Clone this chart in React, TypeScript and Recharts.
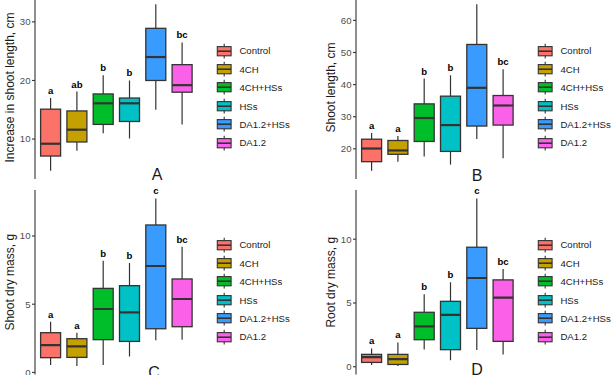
import React from "react";
import { BarChart, Bar, XAxis, YAxis, LabelList, Legend } from "recharts";

const groups = ["Control", "4CH", "4CH+HSs", "HSs", "DA1.2+HSs", "DA1.2"];
const colors = ["#FA7268", "#C4A000", "#00BE2A", "#00C1C6", "#3A9BFF", "#FB61E8"];

// box stats per group: [min, q1, median, q3, max]
const shootIncrease = [
  [4.6, 7.1, 9.2, 15.1, 17.0],
  [8.0, 9.5, 11.6, 14.8, 18.1],
  [11.0, 12.5, 16.1, 17.7, 20.9],
  [10.1, 13.0, 16.1, 17.0, 20.0],
  [15.0, 20.0, 24.0, 28.9, 33.0],
  [12.5, 18.0, 19.2, 22.7, 26.5],
];
const shootIncreaseSig = ["a", "ab", "b", "b", "c", "bc"];
const shootIncreaseTicks = [10, 20, 30];

const shootLength = [
  [13.2, 16.0, 20.1, 23.0, 24.9],
  [16.0, 18.3, 19.5, 22.6, 24.0],
  [17.6, 22.3, 29.6, 34.0, 41.9],
  [15.1, 19.2, 27.4, 36.4, 42.9],
  [23.1, 27.1, 39.0, 52.5, 65.0],
  [17.1, 27.4, 33.5, 36.6, 44.8],
];
const shootLengthSig = ["a", "a", "b", "b", "c", "bc"];
const shootLengthTicks = [20, 30, 40, 50, 60];

const shootDryMass = [
  [0.54, 1.08, 2.0, 2.91, 3.72],
  [0.46, 1.1, 1.91, 2.47, 2.91],
  [0.54, 2.4, 4.65, 6.16, 8.19],
  [1.17, 2.27, 4.4, 6.36, 8.02],
  [2.35, 3.2, 7.8, 10.81, 12.76],
  [2.4, 3.35, 5.38, 6.85, 9.22],
];
const shootDryMassSig = ["a", "a", "b", "b", "c", "bc"];
const dryMassTicks = [0, 5, 10];

const rootDryMass = [
  [0.13, 0.34, 0.76, 0.97, 1.44],
  [0.05, 0.18, 0.6, 0.97, 1.91],
  [1.36, 2.12, 3.17, 4.27, 5.68],
  [0.5, 1.34, 4.06, 5.13, 6.62],
  [1.31, 3.01, 6.96, 9.37, 13.2],
  [0.97, 1.99, 5.42, 6.81, 7.67],
];
const rootDryMassSig = ["a", "a", "b", "b", "c", "bc"];

const FONT = '"Liberation Sans", Arial, sans-serif';
const EDGE = "#333333";

// ggplot style 5% expansion around the data range
function expandDomain(stats: number[][]): [number, number] {
  const lo = Math.min(...stats.map((s) => s[0]));
  const hi = Math.max(...stats.map((s) => s[4]));
  const pad = (hi - lo) * 0.05;
  return [lo - pad, hi + pad];
}

function toRows(stats: number[][], sig: string[]) {
  return groups.map((name, i) => ({
    name,
    min: stats[i][0],
    q1: stats[i][1],
    median: stats[i][2],
    q3: stats[i][3],
    max: stats[i][4],
    sig: sig[i],
    color: colors[i],
  }));
}

const BoxShape = (props: any) => {
  const { x, y, width, height, payload } = props;
  if (x == null || y == null) return null;
  const top = Math.min(y, y + height);
  const h = Math.abs(height);
  const { min, q1, median, q3, max, color } = payload;
  const py = (v: number) => top + (h * (max - v)) / (max - min);
  const cx = x + width / 2;
  return (
    <g>
      <line x1={cx} x2={cx} y1={py(max)} y2={py(q3)} stroke={EDGE} strokeWidth={1.2} />
      <line x1={cx} x2={cx} y1={py(q1)} y2={py(min)} stroke={EDGE} strokeWidth={1.2} />
      <rect
        x={x}
        y={py(q3)}
        width={width}
        height={py(q1) - py(q3)}
        fill={color}
        stroke={EDGE}
        strokeWidth={1.3}
      />
      <line x1={x} x2={x + width} y1={py(median)} y2={py(median)} stroke={EDGE} strokeWidth={2.2} />
    </g>
  );
};

const KeyLegend = () => (
  <div style={{ fontFamily: FONT }}>
    {groups.map((g, i) => (
      <div key={g} style={{ display: "flex", alignItems: "center", height: 18.4 }}>
        <svg width={18.4} height={18.4} style={{ display: "block" }}>
          <line x1={9.2} x2={9.2} y1={1.8} y2={16.6} stroke={EDGE} strokeWidth={1.1} />
          <rect x={2.3} y={4.6} width={13.8} height={9.2} fill={colors[i]} stroke={EDGE} strokeWidth={1.1} />
          <line x1={2.3} x2={16.1} y1={9.2} y2={9.2} stroke={EDGE} strokeWidth={1.6} />
        </svg>
        <span style={{ marginLeft: 6, fontSize: 9.6, color: "#1a1a1a", whiteSpace: "nowrap" }}>{g}</span>
      </div>
    ))}
  </div>
);

type PanelProps = {
  stats: number[][];
  sig: string[];
  ticks: number[];
  yTitle: string;
  letter: string;
  left: number;
  top: number;
  bottomMargin: number;
  letterX: number;
  letterTop: number;
};

function BoxPanel({ stats, sig, ticks, yTitle, letter, left, top, bottomMargin, letterX, letterTop }: PanelProps) {
  const rows = toRows(stats, sig);
  const renderYTitle = (p: any) => {
    const vb = p.viewBox || {};
    const cy = (vb.y ?? 20) + (vb.height ?? 180) / 2;
    return (
      <text
        x={10}
        y={cy}
        transform={`rotate(-90, 10, ${cy})`}
        textAnchor="middle"
        dominantBaseline="central"
        fontSize={12}
        fill="#1a1a1a"
        fontFamily={FONT}
      >
        {yTitle}
      </text>
    );
  };
  return (
    <>
      <div style={{ position: "absolute", left, top }}>
        <BarChart
          width={305}
          height={210}
          data={rows}
          margin={{ top: 20, right: 107, bottom: bottomMargin, left: 0 }}
          style={{ fontFamily: FONT }}
        >
          <XAxis dataKey="name" hide padding={{ left: 2.6, right: 2.6 }} />
          <YAxis
            width={35}
            domain={expandDomain(stats)}
            allowDataOverflow
            ticks={ticks}
            interval={0}
            tickSize={3}
            tickMargin={1.5}
            axisLine={{ stroke: EDGE, strokeWidth: 1.1 }}
            tickLine={{ stroke: EDGE, strokeWidth: 1.1 }}
            tick={{ fontSize: 9.6, fill: "#4d4d4d" }}
            label={{ value: yTitle, content: renderYTitle }}
          />
          <Legend
            layout="horizontal"
            align="center"
            verticalAlign="middle"
            width={95}
            content={() => <KeyLegend />}
            wrapperStyle={{ left: 215, top: 65.7, width: 95 }}
          />
          <Bar
            dataKey={(d: any) => [d.min, d.max]}
            barSize={20}
            shape={BoxShape}
            isAnimationActive={false}
          >
            <LabelList dataKey="sig" position="top" offset={4} fontSize={9.6} fontWeight="bold" fill="#000" />
          </Bar>
        </BarChart>
      </div>
      <div
        style={{
          position: "absolute",
          left: letterX - 20,
          top: letterTop,
          width: 40,
          textAlign: "center",
          fontFamily: FONT,
          fontSize: 16,
          lineHeight: "16px",
          color: "#1a1a1a",
        }}
      >
        {letter}
      </div>
    </>
  );
}

export default function App() {
  return (
    <div
      style={{
        position: "fixed",
        left: 0,
        top: 0,
        width: 615,
        height: 375,
        overflow: "hidden",
        background: "#fff",
      }}
    >
      <BoxPanel
        stats={shootIncrease}
        sig={shootIncreaseSig}
        ticks={shootIncreaseTicks}
        yTitle="Increase in shoot length, cm"
        letter="A"
        left={0}
        top={-24}
        bottomMargin={7}
        letterX={157}
        letterTop={166.5}
      />
      <BoxPanel
        stats={shootLength}
        sig={shootLengthSig}
        ticks={shootLengthTicks}
        yTitle="Shoot length, cm"
        letter="B"
        left={321}
        top={-24}
        bottomMargin={7}
        letterX={477}
        letterTop={167.5}
      />
      <BoxPanel
        stats={shootDryMass}
        sig={shootDryMassSig}
        ticks={dryMassTicks}
        yTitle="Shoot dry mass, g"
        letter="C"
        left={0}
        top={170}
        bottomMargin={5.5}
        letterX={154}
        letterTop={364.5}
      />
      <BoxPanel
        stats={rootDryMass}
        sig={rootDryMassSig}
        ticks={dryMassTicks}
        yTitle="Root dry mass, g"
        letter="D"
        left={321}
        top={170}
        bottomMargin={5.5}
        letterX={477}
        letterTop={362}
      />
    </div>
  );
}
